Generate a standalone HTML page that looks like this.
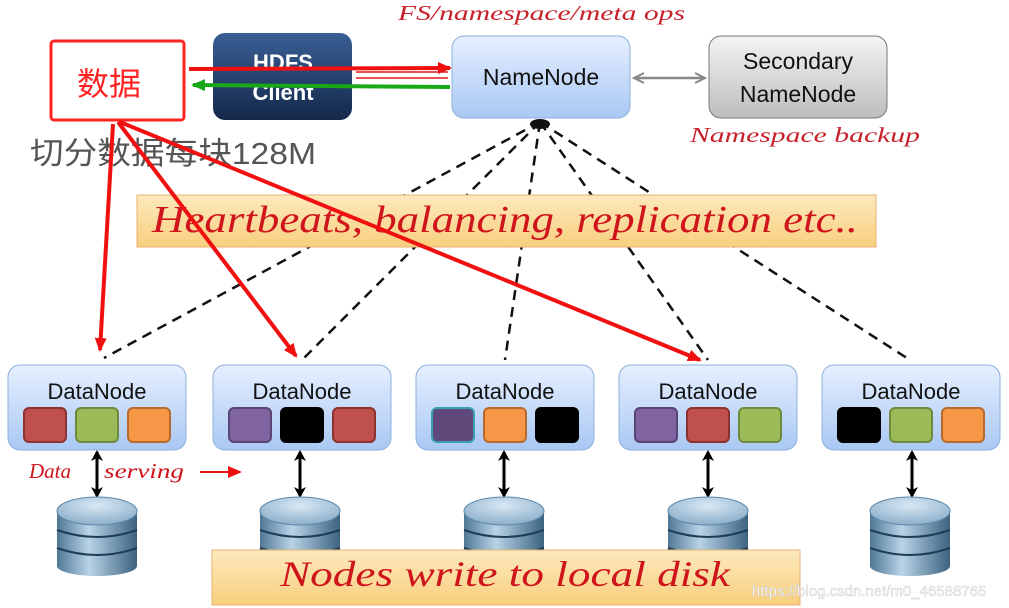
<!DOCTYPE html>
<html><head><meta charset="utf-8"><style>
html,body{margin:0;padding:0;background:#fff;width:1009px;height:608px;overflow:hidden}
</style></head><body>
<svg width="1009" height="608" viewBox="0 0 1009 608" xmlns="http://www.w3.org/2000/svg" font-family="Liberation Sans, sans-serif">
<defs>
<linearGradient id="nb" x1="0" y1="0" x2="0" y2="1"><stop offset="0" stop-color="#e6efff"/><stop offset="1" stop-color="#a9c8f3"/></linearGradient>
<linearGradient id="hc" x1="0" y1="0" x2="0" y2="1"><stop offset="0" stop-color="#3a5f95"/><stop offset="1" stop-color="#14284a"/></linearGradient>
<linearGradient id="gr" x1="0" y1="0" x2="0" y2="1"><stop offset="0" stop-color="#f4f4f4"/><stop offset="1" stop-color="#bdbdbd"/></linearGradient>
<linearGradient id="yl" x1="0" y1="0" x2="0" y2="1"><stop offset="0" stop-color="#fde9bd"/><stop offset="1" stop-color="#f8cf7e"/></linearGradient>
<linearGradient id="dk" x1="0" y1="0" x2="1" y2="0"><stop offset="0" stop-color="#4f7896"/><stop offset=".4" stop-color="#b9d3e6"/><stop offset="1" stop-color="#3b6280"/></linearGradient>
<radialGradient id="dt" cx=".5" cy=".3" r=".8"><stop offset="0" stop-color="#d9e8f4"/><stop offset="1" stop-color="#7fa6c4"/></radialGradient>
<marker id="ab" markerWidth="12" markerHeight="12" refX="9" refY="6" orient="auto-start-reverse" markerUnits="userSpaceOnUse"><path d="M0,0 L11,6 L0,12 L3,6 Z" fill="#000"/></marker>
<marker id="ar" markerWidth="14" markerHeight="12" refX="12" refY="6" orient="auto" markerUnits="userSpaceOnUse"><path d="M0,0 L14,6 L0,12 Z" fill="#f01010"/></marker>
<marker id="ag" markerWidth="14" markerHeight="12" refX="12" refY="6" orient="auto" markerUnits="userSpaceOnUse"><path d="M0,0 L14,6 L0,12 Z" fill="#18a818"/></marker>
<marker id="ay" markerWidth="12" markerHeight="12" refX="10" refY="6" orient="auto-start-reverse" markerUnits="userSpaceOnUse"><path d="M0,1 L10,6 L0,11" fill="none" stroke="#888" stroke-width="2"/></marker>
<g id="db">
<rect x="-40" y="12" width="80" height="56" fill="url(#dk)"/>
<ellipse cx="0" cy="68" rx="40" ry="10" fill="url(#dk)"/>
<path d="M-40,32 Q0,46 40,32" stroke="#1e3e58" stroke-width="2" fill="none"/>
<path d="M-40,50 Q0,64 40,50" stroke="#1e3e58" stroke-width="2" fill="none"/>
<ellipse cx="0" cy="13" rx="40" ry="14" fill="url(#dt)" stroke="#5d87a8"/>
</g>
</defs>

<text x="398" y="20" font-family="Liberation Serif, serif" font-style="italic" font-size="21" fill="#c8202a" textLength="287" lengthAdjust="spacingAndGlyphs">FS/namespace/meta ops</text>

<g stroke="#111" stroke-width="2.5" stroke-dasharray="10,7" fill="none">
<line x1="540" y1="122" x2="104" y2="358"/>
<line x1="540" y1="122" x2="302" y2="360"/>
<line x1="540" y1="122" x2="505" y2="360"/>
<line x1="540" y1="122" x2="708" y2="360"/>
<line x1="540" y1="122" x2="910" y2="360"/>
</g>
<ellipse cx="540" cy="124" rx="10" ry="5" fill="#111"/>

<rect x="137" y="195" width="739" height="52" fill="url(#yl)" stroke="#e8b070"/>
<text x="152" y="232" font-family="Liberation Serif, serif" font-style="italic" font-size="38" fill="#d0141c" textLength="706" lengthAdjust="spacingAndGlyphs">Heartbeats, balancing, replication etc..</text>

<rect x="213" y="33" width="139" height="87" rx="12" fill="url(#hc)"/>
<text x="283" y="70" text-anchor="middle" font-weight="bold" font-size="22" fill="#fff">HDFS</text>
<text x="283" y="100" text-anchor="middle" font-weight="bold" font-size="22" fill="#fff">Client</text>
<rect x="452" y="36" width="178" height="82" rx="12" fill="url(#nb)" stroke="#8eb0dc"/>
<text x="541" y="85" text-anchor="middle" font-size="23" fill="#111">NameNode</text>
<rect x="709" y="36" width="178" height="82" rx="12" fill="url(#gr)" stroke="#777"/>
<text x="798" y="69" text-anchor="middle" font-size="23" fill="#111">Secondary</text>
<text x="798" y="102" text-anchor="middle" font-size="23" fill="#111">NameNode</text>
<line x1="634" y1="78" x2="705" y2="78" stroke="#888" stroke-width="2.5" marker-start="url(#ay)" marker-end="url(#ay)"/>
<text x="690" y="142" font-family="Liberation Serif, serif" font-style="italic" font-size="21" fill="#c8202a" textLength="230" lengthAdjust="spacingAndGlyphs">Namespace backup</text>

<rect x="51" y="41" width="133" height="79" rx="3" fill="#fff" stroke="#f22" stroke-width="3"/>
<text x="109" y="95" text-anchor="middle" font-family="Noto Sans CJK SC, sans-serif" font-size="32" fill="#f22">数据</text>
<text x="30" y="164" font-family="Liberation Sans, Noto Sans CJK SC, sans-serif" font-size="31" fill="#555" textLength="286" lengthAdjust="spacingAndGlyphs">切分数据每块128M</text>

<line x1="189" y1="69" x2="450" y2="68" stroke="#f01010" stroke-width="4" marker-end="url(#ar)"/>
<line x1="356" y1="78" x2="448" y2="78" stroke="#e01818" stroke-width="1.5"/>
<line x1="356" y1="72" x2="448" y2="72" stroke="#e01818" stroke-width="1.5"/>
<line x1="450" y1="87" x2="193" y2="85" stroke="#18a818" stroke-width="4" marker-end="url(#ag)"/>

<g stroke="#f01010" stroke-width="4" fill="none">
<line x1="113" y1="124" x2="100" y2="350" marker-end="url(#ar)"/>
<line x1="118" y1="122" x2="296" y2="356" marker-end="url(#ar)"/>
<line x1="120" y1="122" x2="700" y2="360" marker-end="url(#ar)"/>
</g>

<g font-size="22" fill="#111">
<rect x="8" y="365" width="178" height="85" rx="12" fill="url(#nb)" stroke="#8eb0dc"/>
<text x="97" y="399" text-anchor="middle">DataNode</text>
<rect x="213" y="365" width="178" height="85" rx="12" fill="url(#nb)" stroke="#8eb0dc"/>
<text x="302" y="399" text-anchor="middle">DataNode</text>
<rect x="416" y="365" width="178" height="85" rx="12" fill="url(#nb)" stroke="#8eb0dc"/>
<text x="505" y="399" text-anchor="middle">DataNode</text>
<rect x="619" y="365" width="178" height="85" rx="12" fill="url(#nb)" stroke="#8eb0dc"/>
<text x="708" y="399" text-anchor="middle">DataNode</text>
<rect x="822" y="365" width="178" height="85" rx="12" fill="url(#nb)" stroke="#8eb0dc"/>
<text x="911" y="399" text-anchor="middle">DataNode</text>
</g>
<g stroke-width="2">
<rect x="24" y="408" width="42" height="34" rx="5" fill="#c0504d" stroke="#8c3230"/>
<rect x="76" y="408" width="42" height="34" rx="5" fill="#9bbb59" stroke="#6f8a3c"/>
<rect x="128" y="408" width="42" height="34" rx="5" fill="#f79646" stroke="#b86a2c"/>
<rect x="229" y="408" width="42" height="34" rx="5" fill="#8064a2" stroke="#5a4473"/>
<rect x="281" y="408" width="42" height="34" rx="5" fill="#000" stroke="#000"/>
<rect x="333" y="408" width="42" height="34" rx="5" fill="#c0504d" stroke="#8c3230"/>
<rect x="432" y="408" width="42" height="34" rx="5" fill="#5f497a" stroke="#3aa0b0"/>
<rect x="484" y="408" width="42" height="34" rx="5" fill="#f79646" stroke="#b86a2c"/>
<rect x="536" y="408" width="42" height="34" rx="5" fill="#000" stroke="#000"/>
<rect x="635" y="408" width="42" height="34" rx="5" fill="#8064a2" stroke="#5a4473"/>
<rect x="687" y="408" width="42" height="34" rx="5" fill="#c0504d" stroke="#8c3230"/>
<rect x="739" y="408" width="42" height="34" rx="5" fill="#9bbb59" stroke="#6f8a3c"/>
<rect x="838" y="408" width="42" height="34" rx="5" fill="#000" stroke="#000"/>
<rect x="890" y="408" width="42" height="34" rx="5" fill="#9bbb59" stroke="#6f8a3c"/>
<rect x="942" y="408" width="42" height="34" rx="5" fill="#f79646" stroke="#b86a2c"/>
</g>

<g stroke="#000" stroke-width="3">
<line x1="97" y1="452" x2="97" y2="496" marker-start="url(#ab)" marker-end="url(#ab)"/>
<line x1="300" y1="452" x2="300" y2="496" marker-start="url(#ab)" marker-end="url(#ab)"/>
<line x1="504" y1="452" x2="504" y2="496" marker-start="url(#ab)" marker-end="url(#ab)"/>
<line x1="708" y1="452" x2="708" y2="496" marker-start="url(#ab)" marker-end="url(#ab)"/>
<line x1="912" y1="452" x2="912" y2="496" marker-start="url(#ab)" marker-end="url(#ab)"/>
</g>
<text x="29" y="478" font-family="Liberation Serif, serif" font-style="italic" font-size="21" fill="#d0141c">Data</text>
<text x="104" y="478" font-family="Liberation Serif, serif" font-style="italic" font-size="21" fill="#d0141c" textLength="80" lengthAdjust="spacingAndGlyphs">serving</text>
<line x1="200" y1="472" x2="240" y2="472" stroke="#e01818" stroke-width="2" marker-end="url(#ar)"/>

<use href="#db" x="97" y="498"/>
<use href="#db" x="300" y="498"/>
<use href="#db" x="504" y="498"/>
<use href="#db" x="708" y="498"/>
<use href="#db" x="910" y="498"/>

<rect x="212" y="550" width="588" height="55" fill="url(#yl)" stroke="#e8b070"/>
<text x="280" y="586" font-family="Liberation Serif, serif" font-style="italic" font-size="36" fill="#d0141c" textLength="450" lengthAdjust="spacingAndGlyphs">Nodes write to local disk</text>
<text x="752" y="596" font-size="15" fill="#fff" stroke="#ccc" stroke-width="0.5">https://blog.csdn.net/m0_46588765</text>
</svg>
</body></html>
